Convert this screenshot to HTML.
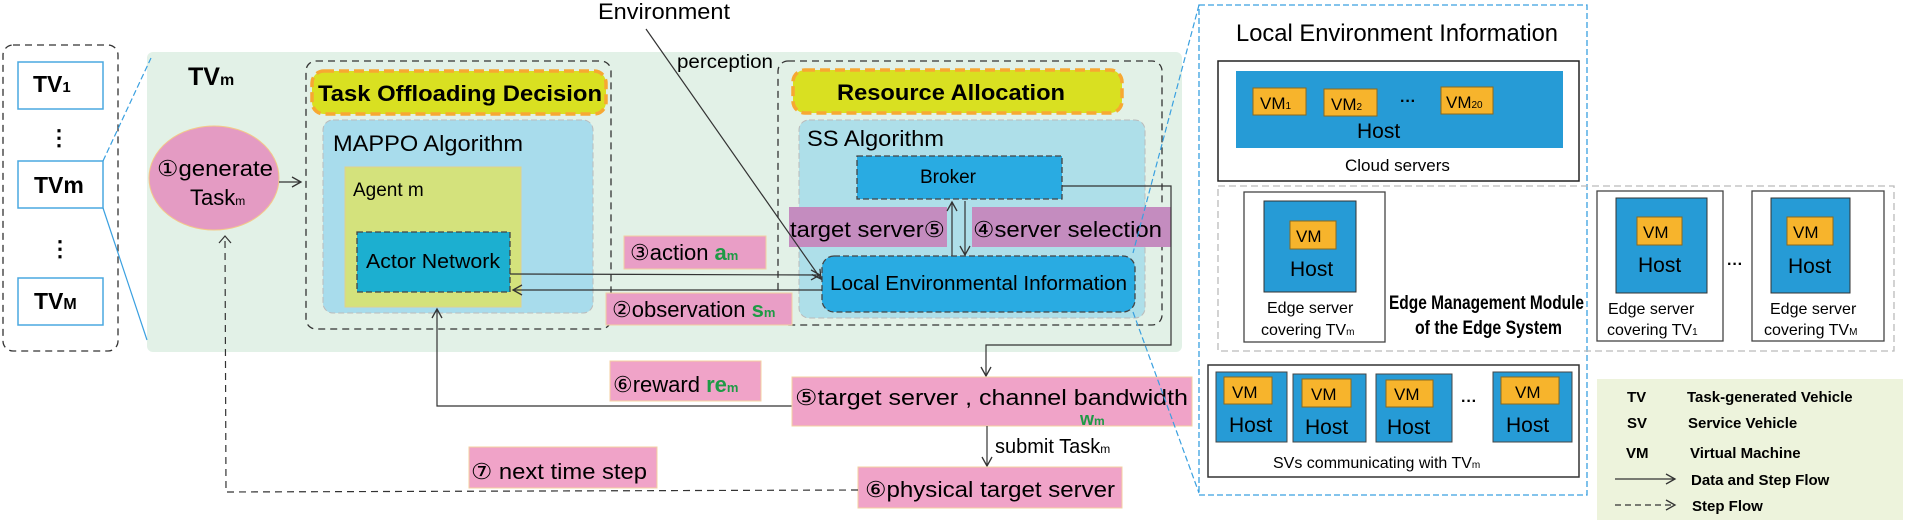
<!DOCTYPE html>
<html><head><meta charset="utf-8"><style>
html,body{margin:0;padding:0;background:#fff;width:1905px;height:523px;overflow:hidden}
svg{display:block;font-family:"Liberation Sans",sans-serif}
</style></head><body>
<svg width="1905" height="523" viewBox="0 0 1905 523" xmlns="http://www.w3.org/2000/svg">
<defs>
<marker id="ar" markerWidth="12" markerHeight="12" refX="10" refY="6" orient="auto" markerUnits="userSpaceOnUse">
<path d="M1,1 L10,6 L1,11" fill="none" stroke="#333" stroke-width="1.3"/></marker>
</defs>
<!-- left TV list -->
<rect x="3" y="45" width="115" height="306" rx="10" fill="none" stroke="#333" stroke-width="1.3" stroke-dasharray="7,5"/>
<rect x="18" y="62" width="85" height="47" fill="#fff" stroke="#4aa8e0" stroke-width="1.5"/>
<rect x="18" y="161" width="85" height="47" fill="#fff" stroke="#4aa8e0" stroke-width="1.5"/>
<rect x="18" y="278" width="85" height="47" fill="#fff" stroke="#4aa8e0" stroke-width="1.5"/>
<text x="33" y="92" font-size="23" font-weight="bold">TV<tspan font-size="15">1</tspan></text>
<text x="34" y="193" font-size="23" font-weight="bold">TVm</text>
<text x="34" y="309" font-size="23" font-weight="bold">TV<tspan font-size="16">M</tspan></text>
<text x="48" y="145" font-size="22" font-weight="bold">⋮</text>
<text x="49" y="256" font-size="22" font-weight="bold">⋮</text>
<!-- green region -->
<rect x="147" y="52" width="1035" height="300" rx="6" fill="#e2f1e7"/>
<line x1="103" y1="161" x2="151" y2="58" stroke="#3aa0e0" stroke-width="1.2" stroke-dasharray="6,3"/>
<line x1="103" y1="208" x2="147" y2="340" stroke="#3aa0e0" stroke-width="1.2"/>
<text x="188" y="85" font-size="25" font-weight="bold">TV<tspan font-size="16">m</tspan></text>
<!-- circle -->
<ellipse cx="214" cy="178" rx="65" ry="52" fill="#e49bc3" stroke="#f3c98a" stroke-width="1"/>
<text x="157" y="176" font-size="22" textLength="116" lengthAdjust="spacingAndGlyphs">①generate</text>
<text x="190" y="205" font-size="22">Task<tspan font-size="12">m</tspan></text>
<line x1="279" y1="182" x2="301" y2="182" stroke="#333" stroke-width="1.2" marker-end="url(#ar)"/>
<!-- TOD -->
<rect x="306" y="61" width="305" height="268" rx="10" fill="none" stroke="#333" stroke-width="1.3" stroke-dasharray="7,5"/>
<rect x="312" y="71" width="294" height="43" rx="12" fill="#d9e021" stroke="#f7a832" stroke-width="3.5" stroke-dasharray="10,5"/>
<text x="318" y="101" font-size="22" font-weight="bold" textLength="284" lengthAdjust="spacingAndGlyphs">Task Offloading Decision</text>
<rect x="323" y="120" width="270" height="193" rx="10" fill="#a8dcec" stroke="#bbb" stroke-width="1" stroke-dasharray="6,3"/>
<text x="333" y="151" font-size="22" textLength="190" lengthAdjust="spacingAndGlyphs">MAPPO Algorithm</text>
<rect x="345" y="167" width="176" height="140" fill="#d4e27c" stroke="#e0d090" stroke-width="1"/>
<text x="353" y="196" font-size="19">Agent m</text>
<rect x="357" y="232" width="153" height="60" fill="#1cafd0" stroke="#444" stroke-width="1.3" stroke-dasharray="6,3"/>
<text x="366" y="268" font-size="20" textLength="134" lengthAdjust="spacingAndGlyphs">Actor Network</text>
<!-- RA -->
<rect x="778" y="61" width="384" height="264" rx="10" fill="none" stroke="#333" stroke-width="1.3" stroke-dasharray="7,5"/>
<rect x="793" y="70" width="329" height="43" rx="12" fill="#d9e021" stroke="#f7a832" stroke-width="3.5" stroke-dasharray="10,5"/>
<text x="837" y="100" font-size="22" font-weight="bold" textLength="228" lengthAdjust="spacingAndGlyphs">Resource Allocation</text>
<rect x="799" y="120" width="346" height="198" rx="10" fill="#aedfe9" stroke="#bbb" stroke-width="1" stroke-dasharray="6,3"/>
<text x="807" y="146" font-size="22" textLength="137" lengthAdjust="spacingAndGlyphs">SS Algorithm</text>
<rect x="857" y="156" width="205" height="43" fill="#29abe2" stroke="#444" stroke-width="1.3" stroke-dasharray="6,3"/>
<text x="920" y="183" font-size="19">Broker</text>
<rect x="789" y="207" width="158" height="40" fill="#c48cbf"/>
<text x="790" y="237" font-size="22" textLength="155" lengthAdjust="spacingAndGlyphs">target server⑤</text>
<rect x="972" y="207" width="199" height="40" fill="#c48cbf"/>
<text x="973" y="237" font-size="22" textLength="189" lengthAdjust="spacingAndGlyphs">④server selection</text>
<line x1="952" y1="256" x2="952" y2="202" stroke="#333" stroke-width="1.2" marker-end="url(#ar)"/>
<line x1="965" y1="201" x2="965" y2="255" stroke="#333" stroke-width="1.2" marker-end="url(#ar)"/>
<rect x="822" y="256" width="313" height="56" rx="12" fill="#29abe2" stroke="#444" stroke-width="1.3" stroke-dasharray="6,3"/>
<text x="830" y="290" font-size="20" textLength="297" lengthAdjust="spacingAndGlyphs">Local Environmental Information</text>
<!-- Environment -->
<text x="598" y="19" font-size="22" textLength="132" lengthAdjust="spacingAndGlyphs">Environment</text>
<text x="677" y="68" font-size="19" textLength="96" lengthAdjust="spacingAndGlyphs">perception</text>
<line x1="646" y1="29" x2="821" y2="279" stroke="#333" stroke-width="1.2" marker-end="url(#ar)"/>
<!-- action / observation -->
<rect x="624" y="236" width="142" height="33" fill="#e99ec6" stroke="#f3d0a0" stroke-width="1"/>
<text x="630" y="260" font-size="22">③action <tspan fill="#1e9a45" font-weight="bold">a</tspan><tspan fill="#1e9a45" font-weight="bold" font-size="13">m</tspan></text>
<line x1="510" y1="274" x2="820" y2="275" stroke="#333" stroke-width="1.2" marker-end="url(#ar)"/>
<line x1="822" y1="290" x2="513" y2="290" stroke="#333" stroke-width="1.2" marker-end="url(#ar)"/>
<rect x="606" y="293" width="186" height="32" fill="#e99ec6" stroke="#f3d0a0" stroke-width="1"/>
<text x="612" y="317" font-size="22">②observation <tspan fill="#1e9a45" font-weight="bold">s</tspan><tspan fill="#1e9a45" font-weight="bold" font-size="13">m</tspan></text>
<!-- Broker to target -->
<polyline points="1062,186 1171,186 1171,345 986,345 986,376" fill="none" stroke="#333" stroke-width="1.2" marker-end="url(#ar)"/>
<!-- reward -->
<rect x="610" y="361" width="151" height="40" fill="#f0a3c8" stroke="#f3d0a0" stroke-width="1"/>
<text x="613" y="392" font-size="22">⑥reward <tspan fill="#1e9a45" font-weight="bold">re</tspan><tspan fill="#1e9a45" font-weight="bold" font-size="13">m</tspan></text>
<polyline points="792,406 437,406 437,309" fill="none" stroke="#333" stroke-width="1.2" marker-end="url(#ar)"/>
<rect x="792" y="377" width="400" height="49" fill="#f0a3c8" stroke="#f3d0a0" stroke-width="1"/>
<text x="795" y="405" font-size="22" textLength="393" lengthAdjust="spacingAndGlyphs">⑤target server , channel bandwidth</text>
<text x="1080" y="425" font-size="18" fill="#1e9a45" font-weight="bold">w<tspan font-size="12">m</tspan></text>
<line x1="987" y1="426" x2="987" y2="466" stroke="#333" stroke-width="1.2" marker-end="url(#ar)"/>
<text x="995" y="453" font-size="20">submit Task<tspan font-size="12">m</tspan></text>
<rect x="858" y="467" width="264" height="41" fill="#f0a3c8" stroke="#f3d0a0" stroke-width="1"/>
<text x="865" y="497" font-size="22" textLength="250" lengthAdjust="spacingAndGlyphs">⑥physical target server</text>
<rect x="469" y="447" width="188" height="41" fill="#f0a3c8" stroke="#f3d0a0" stroke-width="1"/>
<text x="471" y="479" font-size="22" textLength="176" lengthAdjust="spacingAndGlyphs">⑦ next time step</text>
<polyline points="858,490 226,492 225,237" fill="none" stroke="#333" stroke-width="1.2" stroke-dasharray="7,5"/>
<path d="M219,243 L225,236 L231,243" fill="none" stroke="#333" stroke-width="1.2"/>
<!-- right zoom -->
<line x1="1199" y1="5" x2="1133" y2="253" stroke="#3aa0e0" stroke-width="1.2" stroke-dasharray="6,3"/>
<line x1="1133" y1="312" x2="1199" y2="493" stroke="#3aa0e0" stroke-width="1.2" stroke-dasharray="6,3"/>
<rect x="1199" y="5" width="388" height="490" fill="none" stroke="#3aa0e0" stroke-width="1.3" stroke-dasharray="6,3"/>
<text x="1236" y="41" font-size="24" textLength="322" lengthAdjust="spacingAndGlyphs">Local Environment Information</text>
<rect x="1218" y="61" width="361" height="120" fill="#fff" stroke="#222" stroke-width="1.5"/>
<rect x="1236" y="71" width="327" height="77" fill="#269bd6"/>
<g stroke="#8a6a20" stroke-width="1" fill="#f7b42c">
<rect x="1253" y="88" width="53" height="27"/><rect x="1324" y="89" width="53" height="27"/><rect x="1441" y="87" width="52" height="27"/></g>
<text x="1260" y="109" font-size="17">VM<tspan font-size="10">1</tspan></text>
<text x="1331" y="110" font-size="17">VM<tspan font-size="10">2</tspan></text>
<text x="1446" y="108" font-size="17">VM<tspan font-size="10">20</tspan></text>
<text x="1400" y="106" font-size="16" font-weight="bold">···</text>
<text x="1357" y="138" font-size="21">Host</text>
<text x="1345" y="171" font-size="17">Cloud servers</text>
<rect x="1218" y="186" width="676" height="165" fill="none" stroke="#bbb" stroke-width="1.3" stroke-dasharray="7,4"/>
<!-- edge TVm -->
<rect x="1244" y="192" width="141" height="150" fill="#fff" stroke="#444" stroke-width="1.3"/>
<rect x="1264" y="201" width="92" height="91" fill="#269bd6" stroke="#333" stroke-width="1"/>
<rect x="1290" y="221" width="46" height="28" fill="#f7b42c" stroke="#8a6a20"/>
<text x="1296" y="242" font-size="17">VM</text>
<text x="1290" y="276" font-size="21">Host</text>
<text x="1267" y="313" font-size="16">Edge server</text>
<text x="1261" y="335" font-size="16">covering  TV<tspan font-size="10">m</tspan></text>
<text x="1389" y="309" font-size="19" font-weight="bold" textLength="195" lengthAdjust="spacingAndGlyphs">Edge Management Module</text>
<text x="1415" y="334" font-size="19" font-weight="bold" textLength="147" lengthAdjust="spacingAndGlyphs">of  the Edge System</text>
<!-- edge TV1 -->
<rect x="1597" y="191" width="126" height="150" fill="#fff" stroke="#444" stroke-width="1.3"/>
<rect x="1616" y="198" width="91" height="95" fill="#269bd6" stroke="#333"/>
<rect x="1637" y="217" width="45" height="28" fill="#f7b42c" stroke="#8a6a20"/>
<text x="1643" y="238" font-size="17">VM</text>
<text x="1638" y="272" font-size="21">Host</text>
<text x="1608" y="314" font-size="16">Edge server</text>
<text x="1607" y="335" font-size="16">covering TV<tspan font-size="10">1</tspan></text>
<text x="1727" y="269" font-size="16" font-weight="bold">···</text>
<rect x="1752" y="191" width="132" height="150" fill="#fff" stroke="#444" stroke-width="1.3"/>
<rect x="1771" y="198" width="79" height="95" fill="#269bd6" stroke="#333"/>
<rect x="1787" y="217" width="46" height="28" fill="#f7b42c" stroke="#8a6a20"/>
<text x="1793" y="238" font-size="17">VM</text>
<text x="1788" y="273" font-size="21">Host</text>
<text x="1770" y="314" font-size="16">Edge server</text>
<text x="1764" y="335" font-size="16">covering  TV<tspan font-size="10">M</tspan></text>
<!-- SVs -->
<rect x="1208" y="365" width="371" height="112" fill="#fff" stroke="#333" stroke-width="1.5"/>
<g fill="#269bd6" stroke="#444" stroke-width="1">
<rect x="1216" y="372" width="71" height="70"/><rect x="1293" y="374" width="73" height="68"/><rect x="1376" y="374" width="76" height="68"/><rect x="1493" y="372" width="79" height="70"/></g>
<g fill="#f7b42c" stroke="#8a6a20" stroke-width="1">
<rect x="1224" y="377" width="48" height="27"/><rect x="1302" y="379" width="49" height="28"/><rect x="1386" y="380" width="47" height="27"/><rect x="1501" y="377" width="58" height="27"/></g>
<g font-size="17"><text x="1232" y="398">VM</text><text x="1311" y="400">VM</text><text x="1394" y="400">VM</text><text x="1515" y="398">VM</text></g>
<g font-size="21"><text x="1229" y="432">Host</text><text x="1305" y="434">Host</text><text x="1387" y="434">Host</text><text x="1506" y="432">Host</text></g>
<text x="1461" y="406" font-size="16" font-weight="bold">···</text>
<text x="1273" y="468" font-size="16">SVs communicating with TV<tspan font-size="10">m</tspan></text>
<!-- legend -->
<rect x="1597" y="379" width="306" height="141" fill="#edf3dc"/>
<g font-size="15" font-weight="bold">
<text x="1627" y="402">TV</text><text x="1687" y="402">Task-generated Vehicle</text>
<text x="1627" y="428">SV</text><text x="1688" y="428">Service Vehicle</text>
<text x="1626" y="458">VM</text><text x="1690" y="458">Virtual Machine</text>
<text x="1691" y="485">Data and Step Flow</text>
<text x="1692" y="511">Step Flow</text></g>
<line x1="1615" y1="479" x2="1675" y2="479" stroke="#333" stroke-width="1.2" marker-end="url(#ar)"/>
<line x1="1615" y1="505" x2="1675" y2="505" stroke="#333" stroke-width="1.2" stroke-dasharray="6,4" marker-end="url(#ar)"/>
</svg>
</body></html>
